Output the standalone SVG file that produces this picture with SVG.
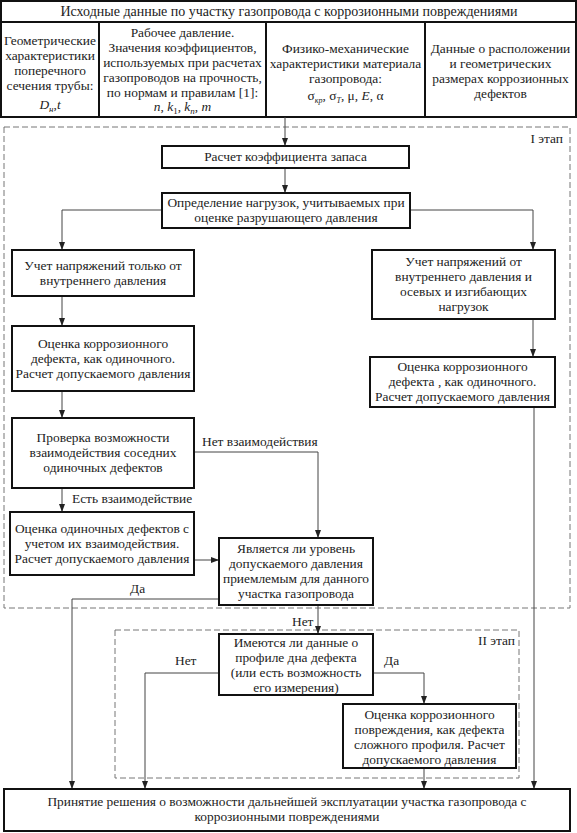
<svg xmlns="http://www.w3.org/2000/svg" width="577" height="833" viewBox="0 0 577 833" font-family="'Liberation Serif', 'Times New Roman', 'DejaVu Serif', serif" font-size="13.4">
<defs>
<marker id="ah" markerWidth="8" markerHeight="6" refX="8" refY="3" orient="auto" markerUnits="userSpaceOnUse">
<path d="M0,0 L8,3 L0,6 z" fill="#222"/>
</marker>
</defs>
<style>
text{font-family:'Liberation Serif','Times New Roman','DejaVu Serif',serif;font-size:13.4px;fill:#222}
.c{text-anchor:middle}
.e{text-anchor:end}
.t{font-size:14px}
.box{fill:#fff;stroke:#111;stroke-width:2}
.hdr{fill:none;stroke:#111;stroke-width:2}
.ar{fill:none;stroke:#444;stroke-width:1;marker-end:url(#ah)}
.dash{fill:none;stroke:#777;stroke-width:1;stroke-dasharray:6,3}
.i{font-style:italic}
</style>
<rect width="577" height="833" fill="#fff"/>

<g id="stages">
<rect class="dash" x="4" y="127" width="566" height="481"/>
<text class="e" x="563" y="143">I этап</text>
<rect class="dash" x="115" y="630" width="404" height="148"/>
<text class="e" x="515" y="645">II этап</text>
</g>

<g id="header">
<rect class="hdr" x="1" y="1" width="575" height="116"/>
<line class="hdr" x1="1" y1="22" x2="576" y2="22"/>
<line class="hdr" x1="99" y1="22" x2="99" y2="117"/>
<line class="hdr" x1="266" y1="22" x2="266" y2="117"/>
<line class="hdr" x1="425" y1="22" x2="425" y2="117"/>
<text class="c t" x="289" y="16">Исходные данные по участку газопровода с коррозионными повреждениями</text>
<g id="h1">
<text class="c" x="50" y="45">Геометрические</text>
<text class="c" x="50" y="60">характеристики</text>
<text class="c" x="50" y="75">поперечного</text>
<text class="c" x="50" y="90">сечения трубы:</text>
<text class="c" x="50" y="109"><tspan class="i">D</tspan><tspan class="i" font-size="9" dy="3">н</tspan><tspan dy="-3">,</tspan><tspan class="i">t</tspan></text>
</g>
<g id="h2">
<text class="c" x="182.5" y="37">Рабочее давление.</text>
<text class="c" x="182.5" y="52">Значения коэффициентов,</text>
<text class="c" x="182.5" y="67">используемых при расчетах</text>
<text class="c" x="182.5" y="82">газопроводов на прочность,</text>
<text class="c" x="182.5" y="97">по нормам и правилам [1]:</text>
<text class="c" x="182.5" y="111"><tspan class="i">n</tspan>, <tspan class="i">k</tspan><tspan font-size="9" dy="3">1</tspan><tspan dy="-3">, </tspan><tspan class="i">k</tspan><tspan class="i" font-size="9" dy="3">n</tspan><tspan dy="-3">, </tspan><tspan class="i">m</tspan></text>
</g>
<g id="h3">
<text class="c" x="345.5" y="53">Физико-механические</text>
<text class="c" x="345.5" y="68">характеристики материала</text>
<text class="c" x="345.5" y="83">газопровода:</text>
<text class="c" x="345.5" y="100">σ<tspan class="i" font-size="8" dy="3">кр</tspan><tspan dy="-3">, σ</tspan><tspan class="i" font-size="8" dy="3">T</tspan><tspan dy="-3">, μ, </tspan><tspan class="i">E</tspan>, α</text>
</g>
<g id="h4">
<text class="c" x="500.5" y="53">Данные о расположении</text>
<text class="c" x="500.5" y="68">и геометрических</text>
<text class="c" x="500.5" y="83">размерах коррозионных</text>
<text class="c" x="500.5" y="98">дефектов</text>
</g>
</g>

<g id="connectors">
<path class="ar" d="M285,117 V146"/>
<path class="ar" d="M285,168 V193"/>
<path class="ar" d="M162,210 H62 V250"/>
<path class="ar" d="M410,210 H533 V250"/>
<path class="ar" d="M62,296 V326"/>
<path class="ar" d="M62,391 V418"/>
<path class="ar" d="M533,319 V357"/>
<path class="ar" d="M534,407 V789"/>
<path class="ar" d="M62,488 V512"/>
<path class="ar" d="M194,452 H318 V538"/>
<path class="ar" d="M194,560 H219"/>
<path class="ar" d="M219,599 H72 V789"/>
<path class="ar" d="M318,605 V634"/>
<path class="ar" d="M219,673 H145 V789"/>
<path class="ar" d="M373,673 H424 V704"/>
<path class="ar" d="M424,768 V789"/>
<text x="202" y="446">Нет взаимодействия</text>
<text x="72" y="503">Есть взаимодействие</text>
<text x="130" y="593">Да</text>
<text x="292" y="626">Нет</text>
<text x="175" y="665">Нет</text>
<text x="384" y="665">Да</text>
</g>

<g id="n1">
<rect class="box" x="162" y="146" width="247" height="22"/>
<text class="c" x="285.5" y="161">Расчет коэффициента запаса</text>
</g>
<g id="n2">
<rect class="box" x="162" y="193" width="248" height="35"/>
<text class="c" x="286" y="207">Определение нагрузок, учитываемых при</text>
<text class="c" x="286" y="222">оценке разрушающего давления</text>
</g>
<g id="l1">
<rect class="box" x="12" y="250" width="182" height="46"/>
<text class="c" x="103" y="270">Учет напряжений только от</text>
<text class="c" x="103" y="285">внутреннего давления</text>
</g>
<g id="r1">
<rect class="box" x="372" y="250" width="183" height="69"/>
<text class="c" x="463.5" y="266">Учет напряжений от</text>
<text class="c" x="463.5" y="281">внутреннего давления и</text>
<text class="c" x="463.5" y="296">осевых и изгибающих</text>
<text class="c" x="463.5" y="311">нагрузок</text>
</g>
<g id="l2">
<rect class="box" x="12" y="326" width="182" height="65"/>
<text class="c" x="103" y="348">Оценка коррозионного</text>
<text class="c" x="103" y="363">дефекта, как одиночного.</text>
<text class="c" x="103" y="378">Расчет допускаемого давления</text>
</g>
<g id="r2">
<rect class="box" x="370" y="357" width="185" height="50"/>
<text class="c" x="462.5" y="371">Оценка коррозионного</text>
<text class="c" x="462.5" y="386">дефекта , как одиночного.</text>
<text class="c" x="462.5" y="401">Расчет допускаемого давления</text>
</g>
<g id="l3">
<rect class="box" x="12" y="418" width="182" height="70"/>
<text class="c" x="103" y="442">Проверка возможности</text>
<text class="c" x="103" y="457">взаимодействия соседних</text>
<text class="c" x="103" y="472">одиночных дефектов</text>
</g>
<g id="l4">
<rect class="box" x="10" y="512" width="184" height="63"/>
<text class="c" x="102" y="533">Оценка одиночных дефектов с</text>
<text class="c" x="102" y="548">учетом их взаимодействия.</text>
<text class="c" x="102" y="563">Расчет допускаемого давления</text>
</g>
<g id="d1">
<rect class="box" x="219" y="538" width="154" height="67"/>
<text class="c" x="296" y="553">Является ли уровень</text>
<text class="c" x="296" y="568">допускаемого давления</text>
<text class="c" x="296" y="583">приемлемым для данного</text>
<text class="c" x="296" y="598">участка газопровода</text>
</g>
<g id="d2">
<rect class="box" x="219" y="634" width="154" height="61"/>
<text class="c" x="296" y="647">Имеются ли  данные о</text>
<text class="c" x="296" y="662">профиле дна дефекта</text>
<text class="c" x="296" y="677">(или есть возможность</text>
<text class="c" x="296" y="692">его измерения)</text>
</g>
<g id="r3">
<rect class="box" x="343" y="704" width="173" height="64"/>
<text class="c" x="429.5" y="719">Оценка коррозионного</text>
<text class="c" x="429.5" y="734">повреждения, как дефекта</text>
<text class="c" x="429.5" y="749">сложного профиля. Расчет</text>
<text class="c" x="429.5" y="764">допускаемого давления</text>
</g>
<g id="f">
<rect class="box" x="4" y="789" width="566" height="42"/>
<text class="c" x="287" y="806">Принятие решения о возможности дальнейшей эксплуатации участка газопровода с</text>
<text class="c" x="287" y="821">коррозионными повреждениями</text>
</g>
</svg>
